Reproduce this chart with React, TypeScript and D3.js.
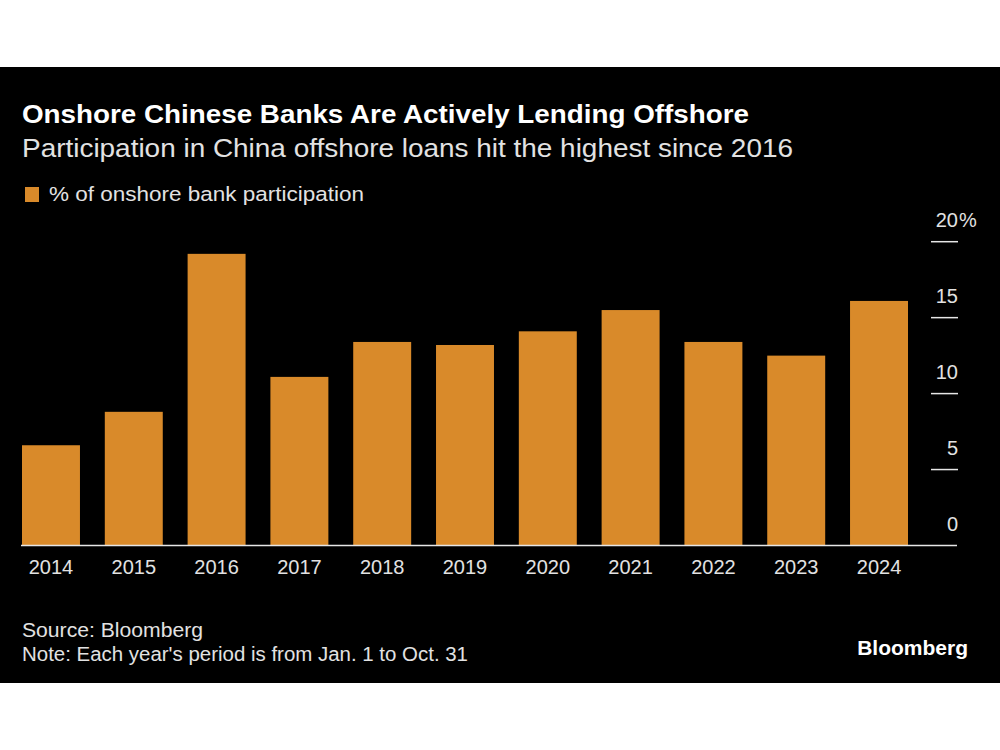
import React from "react";
import * as d3 from "d3";

const years = ["2014", "2015", "2016", "2017", "2018", "2019", "2020", "2021", "2022", "2023", "2024"];
const participation = [6.6, 8.8, 19.2, 11.1, 13.4, 13.2, 14.1, 15.5, 13.4, 12.5, 16.1];
const yTicks = [0, 5, 10, 15, 20];

const title = "Onshore Chinese Banks Are Actively Lending Offshore";
const subtitle = "Participation in China offshore loans hit the highest since 2016";
const legendLabel = "% of onshore bank participation";
const source = "Source: Bloomberg";
const note = "Note: Each year's period is from Jan. 1 to Oct. 31";

export default function App() {
  const W = 1000;
  const H = 750;
  const font = "'Liberation Sans', Arial, Helvetica, sans-serif";
  const barColor = "#d98a2a";

  const x = d3.scaleBand<string>().domain(years).range([22, 908]).paddingInner(0.3).paddingOuter(0);
  const y = d3.scaleLinear().domain([0, 20]).range([545.5, 241.7]);

  return (
    <div style={{ position: "absolute", left: 0, top: 0 }}>
      <svg width={W} height={H} style={{ display: "block" }}>
        <rect x={0} y={0} width={W} height={H} fill="#ffffff" />
        <rect x={0} y={67} width={W} height={616} fill="#000000" />
        <text x={22} y={123} fill="#ffffff" fontFamily={font} fontWeight={700} fontSize={25}
          textLength={727} lengthAdjust="spacingAndGlyphs">
          {title}
        </text>
        <text x={22} y={157} fill="#e2e2e2" fontFamily={font} fontSize={25}
          textLength={771} lengthAdjust="spacingAndGlyphs">
          {subtitle}
        </text>
        <rect x={25} y={187} width={14} height={15} fill={barColor} />
        <text x={49} y={201} fill="#e2e2e2" fontFamily={font} fontSize={20.5}
          textLength={315} lengthAdjust="spacingAndGlyphs">
          {legendLabel}
        </text>

        {years.map((yr, i) => (
          <rect
            key={yr}
            x={x(yr)}
            y={y(participation[i])}
            width={x.bandwidth()}
            height={y(0) - y(participation[i])}
            fill={barColor}
          />
        ))}

        {yTicks.filter((t) => t > 0).map((t) => (
          <line key={"tl" + t} x1={931} x2={958} y1={y(t)} y2={y(t)} stroke="#e6e6e6" strokeWidth={1.5} />
        ))}
        <line x1={21} x2={957} y1={y(0)} y2={y(0)} stroke="#e6e6e6" strokeWidth={1.5} />
        {yTicks.map((t) => (
          <text
            key={"t" + t}
            x={958}
            y={y(t) - 15}
            fill="#e2e2e2"
            fontFamily={font}
            fontSize={20}
            textAnchor="end"
          >
            {t}
          </text>
        ))}
        <text x={959} y={y(20) - 15} fill="#e2e2e2" fontFamily={font} fontSize={20}>
          %
        </text>

        {years.map((yr) => (
          <text
            key={"x" + yr}
            x={(x(yr) as number) + x.bandwidth() / 2}
            y={574}
            fill="#e2e2e2"
            fontFamily={font}
            fontSize={20}
            textAnchor="middle"
          >
            {yr}
          </text>
        ))}

        <text x={22} y={637} fill="#e2e2e2" fontFamily={font} fontSize={20}
          textLength={181} lengthAdjust="spacingAndGlyphs">
          {source}
        </text>
        <text x={22} y={661} fill="#e2e2e2" fontFamily={font} fontSize={20}
          textLength={446} lengthAdjust="spacingAndGlyphs">
          {note}
        </text>
        <text x={968} y={655} fill="#ffffff" fontFamily={font} fontWeight={700} fontSize={21} textAnchor="end">
          Bloomberg
        </text>
      </svg>
    </div>
  );
}
